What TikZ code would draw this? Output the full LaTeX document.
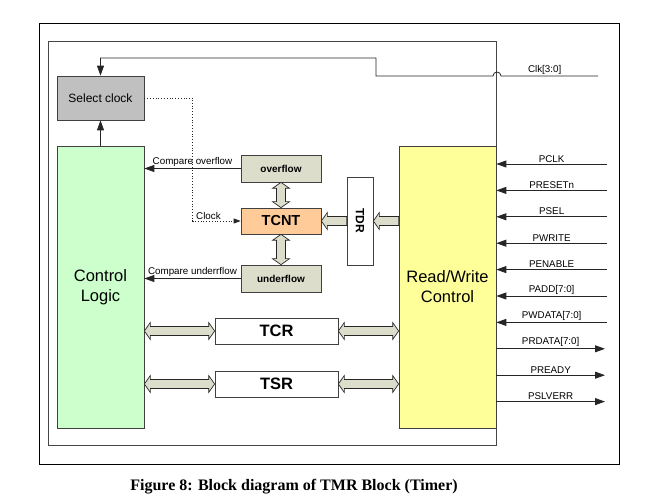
\documentclass[tikz,border=0pt]{standalone}
\usepackage{fontspec}
\setmainfont{Liberation Sans}
\newfontfamily\captionfont{Liberation Serif}
\usepackage{tikz}
\usetikzlibrary{arrows.meta,positioning,calc}
\definecolor{selgray}{RGB}{192,192,192}
\definecolor{logicgreen}{RGB}{204,255,204}
\definecolor{rwyellow}{RGB}{255,255,153}
\definecolor{regbeige}{RGB}{221,221,204}
\definecolor{cntorange}{RGB}{255,204,153}
\definecolor{framegray}{RGB}{70,70,70}

% block arrow with two heads, between #1 and #2
\newcommand{\fatboth}[2]{%
  \filldraw[fatarrow] (#1)
    -- ($(#1)!6pt!(#2)!8.5pt!90:(#2)$) -- ($(#1)!6pt!(#2)!4.5pt!90:(#2)$)
    -- ($(#2)!6pt!(#1)!4.5pt!-90:(#1)$) -- ($(#2)!6pt!(#1)!8.5pt!-90:(#1)$)
    -- (#2)
    -- ($(#2)!6pt!(#1)!8.5pt!90:(#1)$) -- ($(#2)!6pt!(#1)!4.5pt!90:(#1)$)
    -- ($(#1)!6pt!(#2)!4.5pt!-90:(#2)$) -- ($(#1)!6pt!(#2)!8.5pt!-90:(#2)$)
    -- cycle;}
% block arrow with one head, tail #1, tip #2
\newcommand{\fatone}[2]{%
  \filldraw[fatarrow] ($(#1)!4.5pt!90:(#2)$)
    -- ($(#2)!6pt!(#1)!4.5pt!-90:(#1)$) -- ($(#2)!6pt!(#1)!8.5pt!-90:(#1)$)
    -- (#2)
    -- ($(#2)!6pt!(#1)!8.5pt!90:(#1)$) -- ($(#2)!6pt!(#1)!4.5pt!90:(#1)$)
    -- ($(#1)!4.5pt!-90:(#2)$) -- cycle;}

\begin{document}
\begin{tikzpicture}[x=1pt, y=-1pt, >={Triangle[length=10pt,width=7pt]},
    blk/.style={draw=black!75, line width=0.7pt, align=center, inner sep=0pt},
    sig/.style={draw=black!85, line width=0.8pt},
    fatarrow/.style={fill=regbeige, draw=black!85, line width=0.7pt},
    small/.style={font=\fontsize{9.8}{11.8}\selectfont},
    lbl/.style={small, inner sep=1.5pt},
    big/.style={font=\fontsize{16.5}{20}\selectfont}]
\useasboundingbox (0,0) rectangle (653,502);

% frames
\draw[line width=0.9pt] (39,23) rectangle (619,464);
\draw[framegray, line width=0.8pt] (48,41) rectangle (496.5,445);

% blocks
\node[blk, fill=selgray, minimum width=87pt, minimum height=44pt,
      font=\fontsize{12}{14}\selectfont] (sel) at (100.5,98) {Select clock};
\node[blk, fill=logicgreen, minimum width=87pt, minimum height=282pt, big] (cl) at (100.5,287) {Control\\Logic};
\node[blk, fill=rwyellow, minimum width=97pt, minimum height=282pt, big] (rw) at (447.5,287) {Read/Write\\Control};
\node[blk, fill=regbeige, minimum width=80pt, minimum height=27pt,
      font=\bfseries\fontsize{10}{12}\selectfont] (ovf) at (281,168.5) {overflow};
\node[blk, fill=cntorange, minimum width=80pt, minimum height=26pt,
      font=\bfseries\fontsize{14.5}{17}\selectfont] (tcnt) at (281,221) {TCNT};
\node[blk, fill=regbeige, minimum width=80pt, minimum height=27pt,
      font=\bfseries\fontsize{10}{12}\selectfont] (udf) at (281,278.5) {underflow};
\node[blk, fill=white, minimum width=26pt, minimum height=88pt,
      font=\bfseries\fontsize{12}{14}\selectfont] (tdr) at (360,221) {\rotatebox{-90}{TDR}};
\node[blk, fill=white, minimum width=123pt, minimum height=26pt,
      font=\bfseries\fontsize{16.5}{19}\selectfont] (tcr) at (276.5,331) {TCR};
\node[blk, fill=white, minimum width=123pt, minimum height=26pt,
      font=\bfseries\fontsize{16.5}{19}\selectfont] (tsr) at (276.5,384) {TSR};

% clock selection
\coordinate (clkin) at (598,76);
\draw[sig, ->] (clkin) -- node[lbl, pos=.55, above] {Clk[3:0]} (501,76)
    arc[start angle=0, end angle=180, radius=4pt] -- (376,76) -- (376,58)
    -- (sel.north |- 0,58) -- (sel.north);
\draw[sig, ->] (cl.north) -- (sel.south);
\draw[sig, dotted, -{Triangle[length=7pt,width=5pt]}] (sel.east) -| ([xshift=-48pt]tcnt.west)
    -- node[lbl, pos=.33, above] {Clock} (tcnt.west);

% compare flags
\draw[sig, ->] (ovf.west) -- node[lbl, above] {Compare overflow} (cl.east |- ovf.west);
\draw[sig, ->] (udf.west) -- node[lbl, above] {Compare underrflow} (cl.east |- udf.west);

% data paths
\fatboth{ovf.south}{tcnt.north}
\fatboth{tcnt.south}{udf.north}
\fatone{tdr.west}{tcnt.east}
\coordinate (rwtdr) at (rw.west |- tdr.east);
\fatone{rwtdr}{tdr.east}
\coordinate (cltcr) at (cl.east |- tcr.west);
\coordinate (rwtcr) at (rw.west |- tcr.east);
\coordinate (cltsr) at (cl.east |- tsr.west);
\coordinate (rwtsr) at (rw.west |- tsr.east);
\fatboth{cltcr}{tcr.west}
\fatboth{tcr.east}{rwtcr}
\fatboth{cltsr}{tsr.west}
\fatboth{tsr.east}{rwtsr}

% bus interface
\foreach \sg [count=\k from 0] in {PCLK,PRESETn,PSEL,PWRITE,PENABLE,PADD[7:0],PWDATA[7:0]} {
    \coordinate (in\k) at (607,164+26.4*\k);
    \draw[sig, ->] (in\k) -- node[lbl, above] {\sg} (rw.east |- in\k);
}
\foreach \sg [count=\k from 7] in {PRDATA[7:0],PREADY,PSLVERR} {
    \coordinate (out\k) at (605,164+26.4*\k);
    \draw[sig, ->] (rw.east |- out\k) -- node[lbl, above] {\sg} (out\k);
}

\node[font=\captionfont\bfseries\fontsize{16}{19}\selectfont] (caption) at (294,486.5)
    {Figure 8: Block diagram of TMR Block (Timer)};
\end{tikzpicture}
\end{document}
